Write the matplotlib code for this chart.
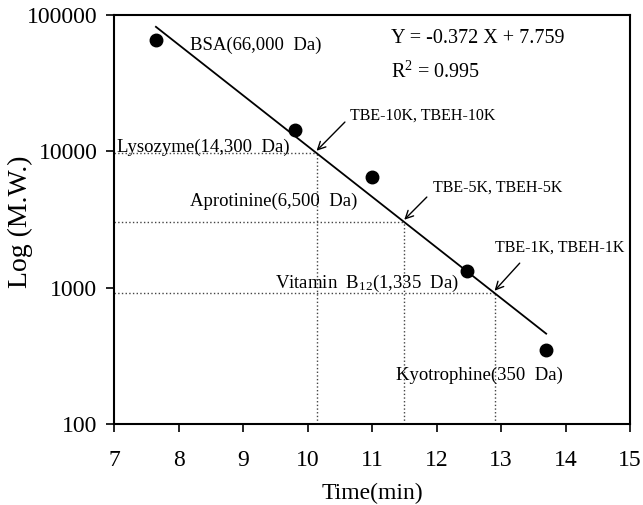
import numpy as np
import matplotlib
matplotlib.use("Agg")
import matplotlib.pyplot as plt

plt.rcParams['font.family'] = ['Liberation Serif', 'DejaVu Serif']
plt.rcParams['mathtext.fontset'] = 'custom'
plt.rcParams['mathtext.rm'] = 'Liberation Serif'
plt.rcParams['mathtext.it'] = 'Liberation Serif:italic'

# standards: retention time (min) and molecular weight (Da)
names = ["BSA(66,000  Da)", "Lysozyme(14,300  Da)", "Aprotinine(6,500  Da)",
         "Vitamin  B$_{12}$(1,335  Da)", "Kyotrophine(350  Da)"]
times = [7.65, 9.81, 11.0, 12.48, 13.70]
mw = [66000, 14300, 6500, 1335, 350]

# fitted line  log10(MW) = slope * t + intercept
slope = -0.372
intercept = 7.759
fit_t = [7.65, 13.70]

# membrane cut-off elution times
cut_names = ["TBE-10K, TBEH-10K", "TBE-5K, TBEH-5K", "TBE-1K, TBEH-1K"]
cut_times = [10.14, 11.50, 12.90]

fig = plt.figure(figsize=(6.43, 5.05), dpi=100)
ax = fig.add_axes([0.1773, 0.1604, 0.8025, 0.8099])

ax.set_yscale('log')
ax.set_xlim(7, 15)
ax.set_ylim(100, 100000)

# dotted guide lines
for t in cut_times:
    y = 10 ** (slope * t + intercept)
    ax.plot([7, t], [y, y], ls=':', color='#444444', lw=1)
    ax.plot([t, t], [100, y], ls=':', color='#444444', lw=1)

ft = np.array(fit_t)
ax.plot(ft, 10 ** (slope * ft + intercept), color='black', lw=1.3)
ax.plot(times, mw, 'o', color='black', markersize=9)

# standard labels
label_pos = [(8.18, 60000), (7.04, 10700), (8.18, 4300), (9.5, 1080), (11.37, 229)]
for name, (lx, ly) in zip(names, label_pos):
    ax.text(lx, ly, name, fontsize=13.5, ha='left', va='center')

# arrows to cut-offs
text_pos = [(10.66, 18400), (11.95, 5380), (12.91, 1950)]
tail_pos = [(10.58, 16400), (11.85, 4620), (13.29, 1513)]
for name, t, (tx, ty), (tlx, tly) in zip(cut_names, cut_times, text_pos, tail_pos):
    y = 10 ** (slope * t + intercept)
    ax.text(tx, ty, name, fontsize=11.5, ha='left', va='center')
    ax.annotate("", xy=(t, y * 1.04), xytext=(tlx, tly),
                arrowprops=dict(arrowstyle='->', color='black', lw=1,
                                mutation_scale=14, shrinkA=0, shrinkB=0))

ax.text(11.3, 67800, "Y = -0.372 X + 7.759", fontsize=14.5, ha='left', va='center')
ax.text(11.3, 38200, "R$^2$ = 0.995", fontsize=14.5, ha='left', va='center')

ax.set_xticks(range(7, 16))
ax.set_yticks([100, 1000, 10000, 100000])
ax.set_yticklabels(["100", "1000", "10000", "100000"])
ax.minorticks_off()
ax.tick_params(direction='out', length=6, width=1.2, labelsize=17)
ax.tick_params(axis='x', pad=13)
ax.tick_params(axis='y', pad=6)
for s in ax.spines.values():
    s.set_linewidth(1.5)

ax.set_xlabel("Time(min)", fontsize=17, labelpad=8)
ax.set_ylabel("Log (M.W.)", fontsize=20)
ax.yaxis.set_label_coords(-0.157, 0.494)

fig.savefig("out.png", dpi=100)
